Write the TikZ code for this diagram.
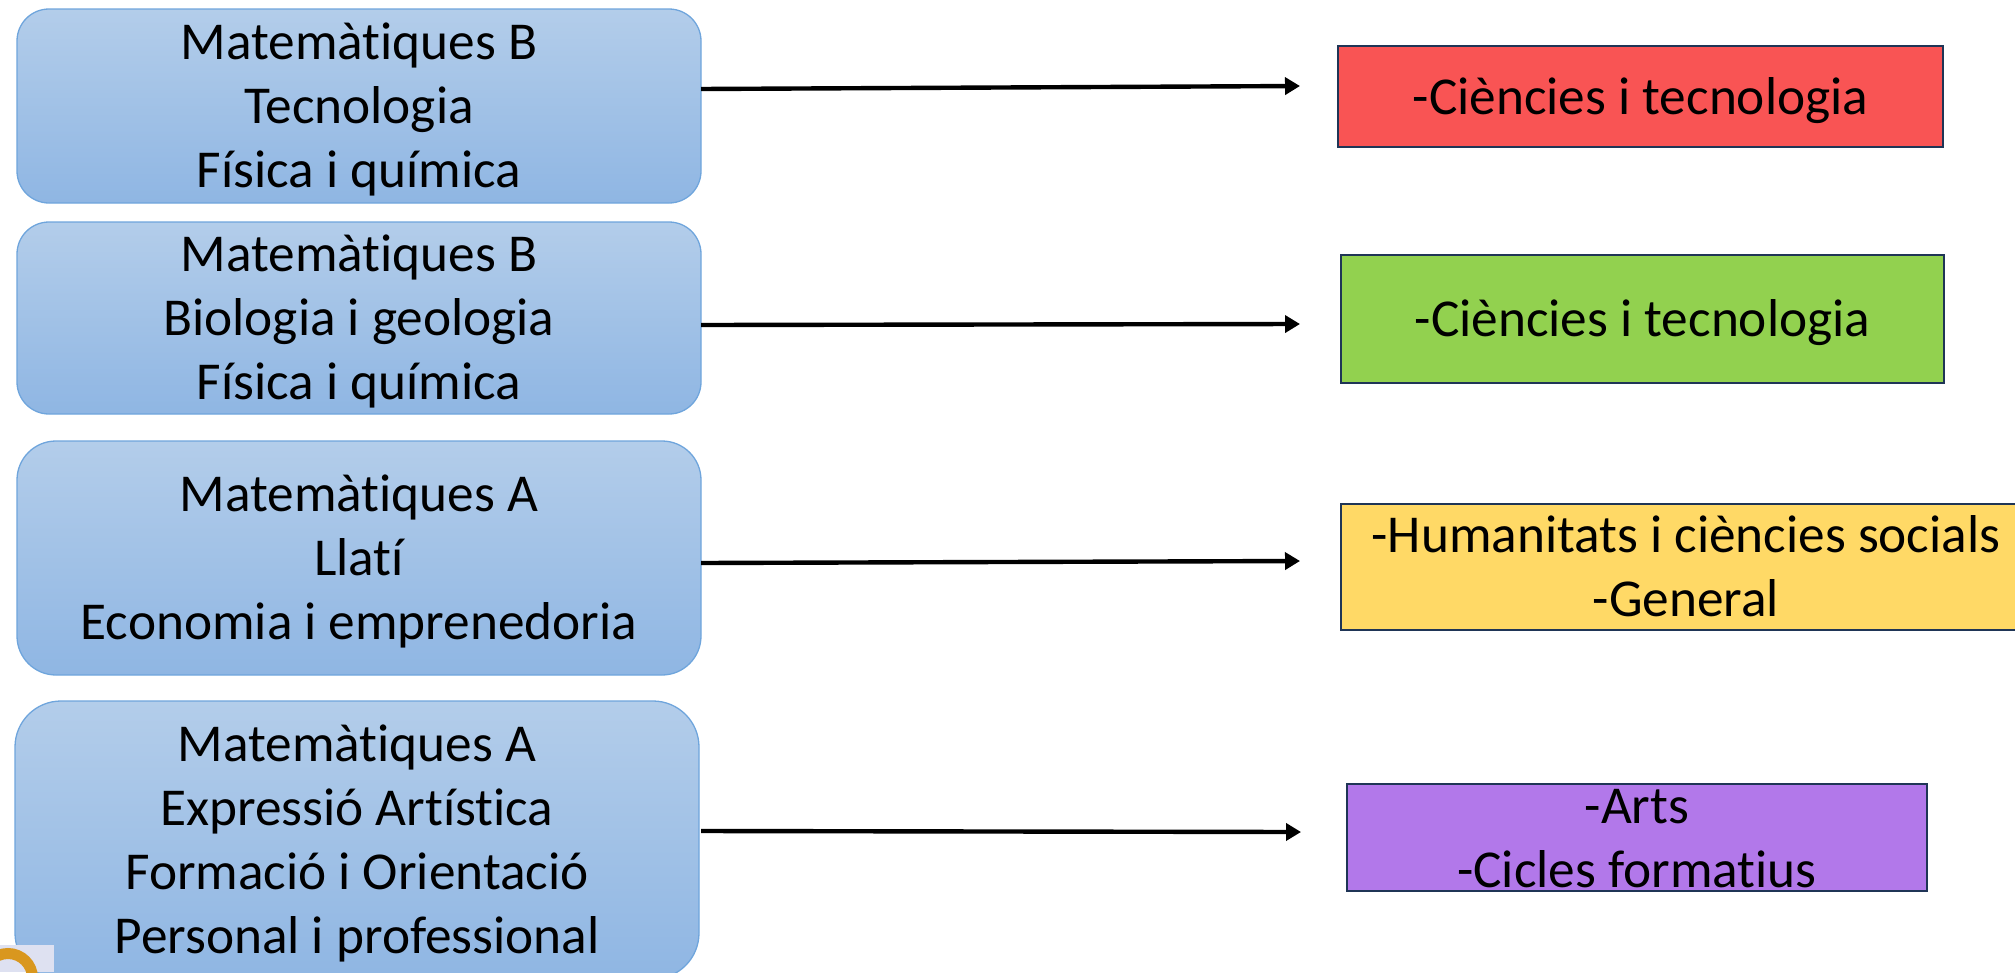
\documentclass[tikz,border=0pt]{standalone}
\usepackage{fontspec}
\setmainfont[Ligatures=NoCommon,Contextuals=NoAlternate]{Carlito}
\usetikzlibrary{arrows.meta}
\tikzset{
  x=1pt,y=-1pt,
  lefty/.style={draw=bluel,line width=1.3pt,top color=bluet,bottom color=blueb,rounded corners=#1,
    anchor=north west,align=center,inner sep=0pt,outer sep=0pt,font=\mytext},
  righty/.style={draw=navy,line width=2.6pt,fill=#1,anchor=north west,align=center,inner sep=0pt,outer sep=0pt,font=\mytext},
  arrowline/.style={line width=4.4pt,-{Triangle[length=15pt,width=17pt]},shorten >=0pt}
}
\newcommand{\mytext}{\fontsize{53.3}{64}\selectfont}
\newcommand{\tops}{\rule{0pt}{45pt}}
\newcommand{\bots}{\rule[-10pt]{0pt}{10pt}}
\definecolor{bluel}{HTML}{6FA5DC}
\definecolor{bluet}{HTML}{B3CDEA}
\definecolor{blueb}{HTML}{8FB6E3}
\definecolor{navy}{HTML}{1F3556}
\definecolor{cred}{HTML}{F95454}
\definecolor{cgreen}{HTML}{92D14F}
\definecolor{cyellow}{HTML}{FFD966}
\definecolor{cpurple}{HTML}{B278EA}
\definecolor{logobg}{HTML}{DEE1F1}
\definecolor{logoring}{HTML}{D9971E}
\begin{document}
\begin{tikzpicture}
\useasboundingbox (0,0) rectangle (2015,972);
\clip (0,0) rectangle (2015,972);
\node[lefty=32pt,minimum width=684pt,minimum height=194pt] (b1) at (17,9) {\tops Matemàtiques B\\Tecnologia\\Física i química\bots};
\node[lefty=32pt,minimum width=684pt,minimum height=192pt] (b2) at (17,222) {\tops Matemàtiques B\\Biologia i geologia\\Física i química\bots};
\node[lefty=39pt,minimum width=684pt,minimum height=234pt] (b3) at (17,441) {\tops Matemàtiques A\\Llatí\\Economia i emprenedoria\bots};
\node[lefty=46pt,minimum width=684pt,minimum height=278pt] (b4) at (15,701) {\tops Matemàtiques A\\Expressió Artística\\Formació i Orientació\\Personal i professional\bots};
\node[righty=cred,minimum width=605pt,minimum height=101pt] (r1) at (1338,46) {\tops -Ciències i tecnologia\bots};
\node[righty=cgreen,minimum width=603pt,minimum height=128pt] (r2) at (1341,255) {\tops -Ciències i tecnologia\bots};
\node[righty=cyellow,minimum width=690pt,minimum height=126pt] (r3) at (1341,504) {\tops -Humanitats i ciències socials\\-General\bots};
\node[righty=cpurple,inner ysep=-6pt,minimum width=580pt,minimum height=107pt] (r4) at (1347,784) {\tops -Arts\\-Cicles formatius\bots};
\draw[arrowline] ([yshift=17pt]b1.east) -- ([xshift=-38pt,yshift=10.5pt]r1.west);
\draw[arrowline] ([yshift=-7pt]b2.east) -- ([xshift=-41pt,yshift=-5pt]r2.west);
\draw[arrowline] ([yshift=-5pt]b3.east) -- ([xshift=-41pt,yshift=6pt]r3.west);
\draw[arrowline] ([xshift=2pt,yshift=9pt]b4.east) -- ([xshift=-46pt,yshift=5.5pt]r4.west);
\fill[logobg] (0,945) rectangle (54,972);
\draw[logoring,line width=11pt] (8,978) circle (24.5);
\end{tikzpicture}
\end{document}
